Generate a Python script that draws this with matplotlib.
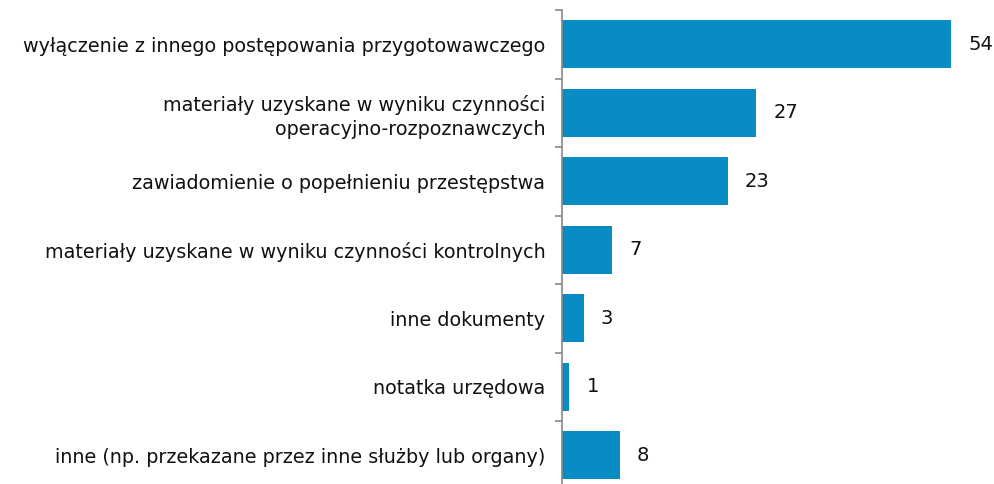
import matplotlib.pyplot as plt
import numpy as np

kategorie = [
    "wyłączenie z innego postępowania przygotowawczego",
    "materiały uzyskane w wyniku czynności\noperacyjno-rozpoznawczych",
    "zawiadomienie o popełnieniu przestępstwa",
    "materiały uzyskane w wyniku czynności kontrolnych",
    "inne dokumenty",
    "notatka urzędowa",
    "inne (np. przekazane przez inne służby lub organy)",
]
wartosci = [54, 27, 23, 7, 3, 1, 8]

fig = plt.figure(figsize=(9.95, 4.84), dpi=100)
ax = fig.add_axes([562 / 995, -5.5 / 484, 432 / 995, 479.5 / 484])

y = np.arange(len(kategorie))
ax.barh(y, wartosci, height=0.7, color="#088CC4")
ax.set_ylim(len(kategorie) - 0.5, -0.5)
ax.set_xlim(0, 60)

for yi, v in zip(y, wartosci):
    ax.text(v + 2.4, yi, str(v), va="center", ha="left", fontsize=14, color="#111111")

ax.set_yticks(y)
ax.set_yticklabels(kategorie, fontsize=13.8, color="#111111", ha="right", linespacing=1.3)
ax.tick_params(axis="y", which="major", length=0, pad=12)
ax.set_yticks(np.arange(-0.5, len(kategorie), 1), minor=True)
ax.tick_params(axis="y", which="minor", length=5, color="#888888", width=1.2)
ax.set_xticks([])

for s in ["top", "right", "bottom"]:
    ax.spines[s].set_visible(False)
ax.spines["left"].set_color("#888888")
ax.spines["left"].set_linewidth(1.2)

fig.savefig("out.png", dpi=100)
